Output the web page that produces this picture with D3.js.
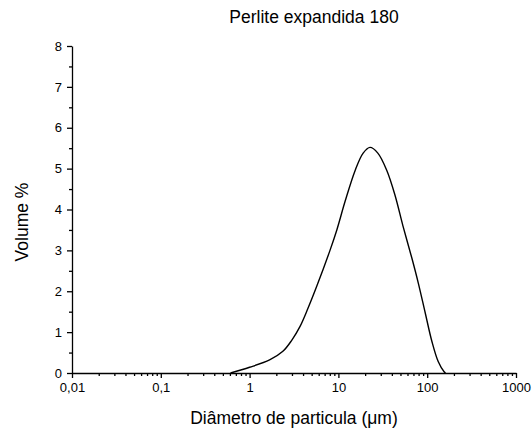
<!DOCTYPE html>
<html>
<head>
<meta charset="utf-8">
<script src="https://cdn.jsdelivr.net/npm/d3@7"></script>
<style>
  body { margin: 0; background: #fff; }
  svg { font-family: "Liberation Sans", Arial, sans-serif; }
</style>
</head>
<body>
<div id="chart"></div>
<script>
// particle diameter (um) and volume %
const diameters = [0.61, 1.0, 1.68, 2.37, 2.98, 3.7, 4.52, 5.7, 8.04, 9.6, 11.9, 15.4, 19.0, 22.7, 27.8, 35.0, 43.4, 53.3, 67.4, 79.4, 94.8, 113, 133, 155, 161]
const volumes = [0, 0.14, 0.32, 0.53, 0.8, 1.14, 1.57, 2.12, 3.0, 3.5, 4.2, 4.95, 5.38, 5.52, 5.38, 4.96, 4.35, 3.6, 2.8, 2.2, 1.48, 0.77, 0.28, 0.03, 0]
const xTicks = [0.01, 0.1, 1, 10, 100, 1000]
const xTickLabels = ['0,01', '0,1', '1', '10', '100', '1000']
const yTicks = [0, 1, 2, 3, 4, 5, 6, 7, 8]

const width = 532
const height = 432
const margin = { top: 46, right: 16, bottom: 59, left: 72 }

const svg = d3
  .select('#chart')
  .append('svg')
  .attr('width', width)
  .attr('height', height)

const x = d3
  .scaleLog()
  .domain([0.01, 1000])
  .range([margin.left, width - margin.right])

const y = d3
  .scaleLinear()
  .domain([0, 8])
  .range([height - margin.bottom, margin.top])

// minor ticks on the log axis (2..9 of each decade)
const minorX = []
xTicks.slice(0, -1).forEach((t) => {
  for (let k = 2; k < 10; k++) minorX.push(t * k)
})
const minorY = yTicks.slice(0, -1).map((t) => t + 0.5)

const xAxis = svg
  .append('g')
  .attr('transform', 'translate(0,' + y(0) + ')')
xAxis
  .append('g')
  .call(d3.axisBottom(x).tickValues(minorX).tickSize(3).tickFormat(''))
  .call((g) => g.select('.domain').remove())
xAxis
  .append('g')
  .call(
    d3
      .axisBottom(x)
      .tickValues(xTicks)
      .tickSize(5)
      .tickSizeOuter(0)
      .tickPadding(5)
      .tickFormat((d, i) => xTickLabels[i])
  )
  .attr('font-size', 13)

const yAxis = svg
  .append('g')
  .attr('transform', 'translate(' + x(0.01) + ',0)')
yAxis
  .append('g')
  .call(d3.axisLeft(y).tickValues(minorY).tickSize(3).tickFormat(''))
  .call((g) => g.select('.domain').remove())
yAxis
  .append('g')
  .call(d3.axisLeft(y).tickValues(yTicks).tickSize(5).tickSizeOuter(0).tickPadding(5))
  .attr('font-size', 13)

svg.selectAll('.domain, .tick line').attr('stroke', '#000').attr('stroke-width', 1.3)
svg.selectAll('.tick text').attr('fill', '#000')

const line = d3
  .line()
  .x((d, i) => x(diameters[i]))
  .y((d) => y(d))
  .curve(d3.curveCatmullRom.alpha(0.5))

svg
  .append('path')
  .datum(volumes)
  .attr('fill', 'none')
  .attr('stroke', '#000')
  .attr('stroke-width', 1.4)
  .attr('d', line)

svg
  .append('text')
  .attr('x', 314)
  .attr('y', 22.5)
  .attr('text-anchor', 'middle')
  .attr('font-size', 17.5)
  .text('Perlite expandida 180')

svg
  .append('text')
  .attr('x', 294)
  .attr('y', 424)
  .attr('text-anchor', 'middle')
  .attr('font-size', 17.5)
  .text('Diâmetro de particula (μm)')

svg
  .append('text')
  .attr('transform', 'translate(28,222) rotate(-90)')
  .attr('text-anchor', 'middle')
  .attr('font-size', 17.5)
  .text('Volume %')
</script>
</body>
</html>
